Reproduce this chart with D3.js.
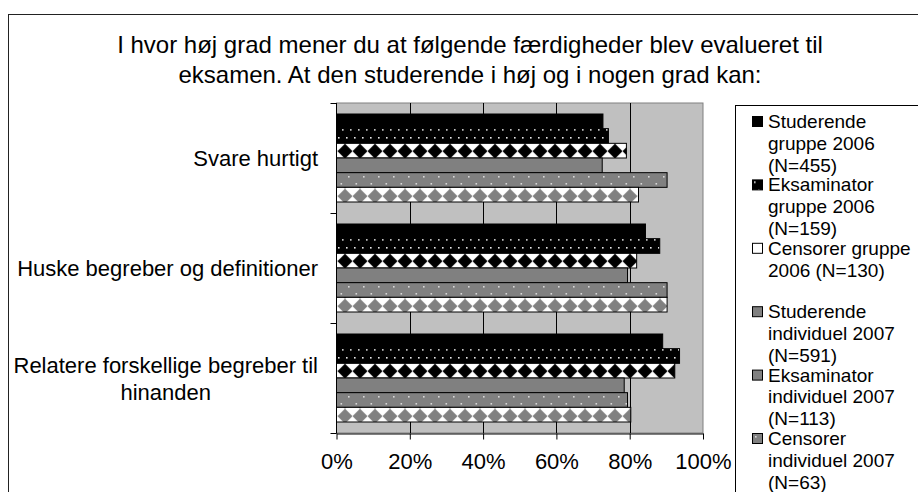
<!DOCTYPE html>
<html>
<head>
<meta charset="utf-8">
<script src="https://cdn.jsdelivr.net/npm/d3@7"></script>
<style>
  body { margin: 0; background: #fff; }
  text { font-family: "Liberation Sans", Arial, sans-serif; fill: #000; }
</style>
</head>
<body>
<script>
const width = 918;
const height = 492;

// chart data
const categories = ["Svare hurtigt", "Huske begreber og definitioner", "Relatere forskellige begreber til hinanden"];
const categoryLines = [["Svare hurtigt"], ["Huske begreber og definitioner"], ["Relatere forskellige begreber til", "hinanden"]];
const seriesNames = [
    "Studerende gruppe 2006 (N=455)",
    "Eksaminator gruppe 2006 (N=159)",
    "Censorer gruppe 2006 (N=130)",
    "Studerende individuel 2007 (N=591)",
    "Eksaminator individuel 2007 (N=113)",
    "Censorer individuel 2007 (N=63)"
];
const legendLines = [
    ["Studerende", "gruppe 2006", "(N=455)"],
    ["Eksaminator", "gruppe 2006", "(N=159)"],
    ["Censorer gruppe", "2006 (N=130)"],
    ["Studerende", "individuel 2007", "(N=591)"],
    ["Eksaminator", "individuel 2007", "(N=113)"],
    ["Censorer", "individuel 2007", "(N=63)"]
];
const studerende2006 = [0.727, 0.843, 0.890];
const eksaminator2006 = [0.742, 0.882, 0.936];
const censorer2006 = [0.791, 0.819, 0.923];
const studerende2007 = [0.725, 0.794, 0.785];
const eksaminator2007 = [0.902, 0.902, 0.794];
const censorer2007 = [0.824, 0.902, 0.803];
const xTicks = [0, 0.2, 0.4, 0.6, 0.8, 1];
const titleLines = [
    "I hvor høj grad mener du at følgende færdigheder blev evalueret til",
    "eksamen. At den studerende i høj og i nogen grad kan:"
];

const seriesValues = [studerende2006, eksaminator2006, censorer2006, studerende2007, eksaminator2007, censorer2007];

const svg = d3.select("body")
    .append("svg")
    .attr("width", width)
    .attr("height", height);

// fill patterns
const defs = svg.append("defs");

function dotPattern(id, w, h, bg, dot, pts, r) {
    const p = defs.append("pattern")
        .attr("id", id)
        .attr("patternUnits", "userSpaceOnUse")
        .attr("width", w)
        .attr("height", h);
    p.append("rect").attr("width", w).attr("height", h).attr("fill", bg);
    pts.forEach(function (d) {
        p.append("rect")
            .attr("x", d[0]).attr("y", d[1])
            .attr("width", r).attr("height", r)
            .attr("fill", dot);
    });
}

function diamondPattern(id, bg, fg) {
    const s = 15;
    const p = defs.append("pattern")
        .attr("id", id)
        .attr("patternUnits", "userSpaceOnUse")
        .attr("y", 3.2)
        .attr("width", s)
        .attr("height", s);
    p.append("rect").attr("width", s).attr("height", s).attr("fill", bg);
    p.append("path")
        .attr("d", `M${s / 2},0L${s},${s / 2}L${s / 2},${s}L0,${s / 2}Z`)
        .attr("fill", fg);
}

dotPattern("dotsBlack", 16, 16, "#000", "#e8e8e8", [[2, 2], [10, 2], [6, 10], [14, 10]], 1.6);
dotPattern("dotsGray", 15, 14, "#808080", "#d8d8d8", [[3, 3], [10.5, 10]], 1.6);
diamondPattern("diamondBlack", "#000", "#fff");
diamondPattern("diamondGray", "#808080", "#fff");

const barFills = ["#000", "url(#dotsBlack)", "url(#diamondBlack)", "#808080", "url(#dotsGray)", "url(#diamondGray)"];
const markerFills = ["#000", "url(#dotsBlack)", "#fff", "#808080", "#808080", "url(#dotsGray)"];

// outer frame
svg.append("rect")
    .attr("x", 8.5).attr("y", 14.5)
    .attr("width", 940).attr("height", 500)
    .attr("fill", "none")
    .attr("stroke", "#222")
    .attr("stroke-width", 1);

// title
svg.append("g")
    .selectAll("text")
    .data(titleLines)
    .enter()
    .append("text")
    .attr("x", 470)
    .attr("y", (d, i) => 53 + i * 30)
    .attr("text-anchor", "middle")
    .attr("font-size", 24)
    .text(d => d);

// scales
const x = d3.scaleLinear().domain([0, 1]).range([336.5, 703]);
const y0 = d3.scaleBand().domain(categories).range([103, 433]).paddingInner(0).paddingOuter(0);
const y1 = d3.scaleBand().domain(d3.range(seriesNames.length)).range([0, y0.bandwidth()]).paddingOuter(0.75);

// plot area
svg.append("rect")
    .attr("x", x(0)).attr("y", 103)
    .attr("width", x(1) - x(0)).attr("height", 330)
    .attr("fill", "#c0c0c0")
    .attr("stroke", "#808080")
    .attr("stroke-width", 1);

svg.append("g")
    .selectAll("line")
    .data(xTicks.slice(1, -1))
    .enter()
    .append("line")
    .attr("x1", d => Math.round(x(d)) + 0.5)
    .attr("x2", d => Math.round(x(d)) + 0.5)
    .attr("y1", 103)
    .attr("y2", 433)
    .attr("stroke", "#000")
    .attr("stroke-width", 1);

// bars
const groups = svg.append("g")
    .selectAll("g")
    .data(categories)
    .enter()
    .append("g")
    .attr("transform", d => `translate(0,${y0(d)})`);

groups.selectAll("rect")
    .data((c, ci) => seriesValues.map((vals, si) => ({ si: si, v: vals[ci] })))
    .enter()
    .append("rect")
    .attr("x", x(0))
    .attr("y", d => y1(d.si))
    .attr("width", d => x(d.v) - x(0))
    .attr("height", y1.bandwidth())
    .attr("fill", d => barFills[d.si])
    .attr("stroke", "#000")
    .attr("stroke-width", 1);

// x axis
const xAxis = svg.append("g")
    .attr("transform", "translate(0,433.5)")
    .call(d3.axisBottom(x).tickValues(xTicks).tickFormat(d3.format(".0%")).tickSize(6).tickSizeOuter(0));
xAxis.select(".domain").attr("stroke", "#000");
xAxis.selectAll(".tick line").attr("stroke", "#000");
xAxis.selectAll(".tick text")
    .attr("font-size", 22)
    .attr("font-family", "Liberation Sans, Arial, sans-serif")
    .attr("y", 28)
    .attr("dy", "0.32em");

// y axis with ticks between categories
const yBounds = categories.map(c => y0(c)).concat([y0.range()[1]]);
svg.append("line")
    .attr("x1", x(0)).attr("x2", x(0))
    .attr("y1", 103).attr("y2", 433.5)
    .attr("stroke", "#000");
svg.append("g")
    .selectAll("line")
    .data(yBounds)
    .enter()
    .append("line")
    .attr("x1", x(0) - 6).attr("x2", x(0))
    .attr("y1", d => Math.round(d) + 0.5)
    .attr("y2", d => Math.round(d) + 0.5)
    .attr("stroke", "#000");

// category labels
const catLabels = svg.append("g")
    .selectAll("text")
    .data(categories)
    .enter()
    .append("text")
    .attr("font-size", 22)
    .attr("text-anchor", "middle");

catLabels.each(function (c, i) {
    const lines = categoryLines[i];
    const t = d3.select(this);
    const mid = y0(c) + y0.bandwidth() / 2;
    const spans = t.selectAll("tspan")
        .data(lines)
        .enter()
        .append("tspan")
        .attr("y", (d, j) => mid + 8 + (j - (lines.length - 1) / 2) * 27)
        .text(d => d);
    const w = d3.max(spans.nodes(), n => n.getComputedTextLength());
    spans.attr("x", 318 - w / 2);
});

// legend
svg.append("rect")
    .attr("x", 735.5).attr("y", 105.5)
    .attr("width", 300).attr("height", 500)
    .attr("fill", "#fff")
    .attr("stroke", "#000");

const legend = svg.append("g")
    .selectAll("g")
    .data(seriesNames)
    .enter()
    .append("g")
    .attr("transform", (d, i) => `translate(752,${116 + i * 63.4})`);

legend.append("rect")
    .attr("x", 0.5).attr("y", 0.5)
    .attr("width", 10).attr("height", 10)
    .attr("fill", (d, i) => markerFills[i])
    .attr("stroke", "#000");

legend.append("text")
    .attr("font-size", 19)
    .each(function (d, i) {
        d3.select(this).selectAll("tspan")
            .data(legendLines[i])
            .enter()
            .append("tspan")
            .attr("x", 16)
            .attr("y", (l, j) => 12 + j * 21.8)
            .text(l => l);
    });
</script>
</body>
</html>
